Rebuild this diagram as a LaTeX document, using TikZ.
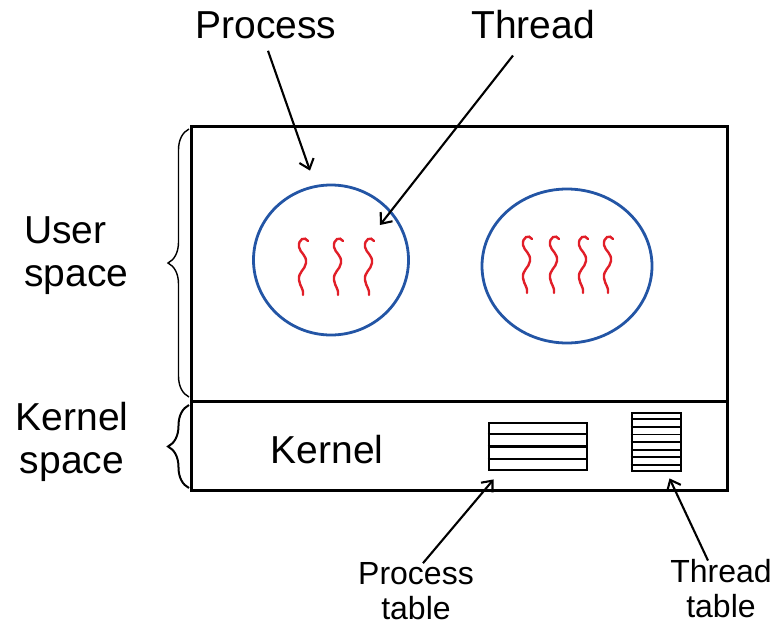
\documentclass[tikz,border=0pt]{standalone}
\usepackage{fontspec}
\setmainfont{Liberation Sans}
\usetikzlibrary{shapes,arrows.meta,positioning,calc,decorations.pathreplacing}
\definecolor{procblue}{RGB}{35,85,165}
\definecolor{threadred}{RGB}{225,30,40}

\tikzset{
  thread/.pic={\draw[threadred, line width=2.4pt, line cap=round]
    (6,3) .. controls (3,-2) and (-4,1) .. (-3,9)
    .. controls (-2,15) and (5,17) .. (4,25)
    .. controls (3,32) and (-4,34) .. (-3,42)
    .. controls (-2,49) and (2,51) .. (1,57);}
}

\begin{document}
\begin{tikzpicture}[x=1pt, y=-1pt,
    bigtext/.style={font=\fontsize{39}{43}\selectfont, inner sep=0pt},
    smalltext/.style={font=\fontsize{32}{35}\selectfont, inner sep=0pt, align=center},
    procblob/.style={draw=procblue, ellipse, line width=2.8pt},
    tablebox/.style={draw, rectangle, line width=2.8pt, inner sep=0pt},
    ptr/.style={line width=2.1pt, -{Straight Barb[length=9pt,width=15pt]}},
    brace/.style={decorate, decoration={brace, amplitude=21pt}}]
				\useasboundingbox (0,0) rectangle (777,627);
				
				% Address space
				\draw[line width=3pt] (191,126) rectangle (727,490);
				\draw[line width=3pt] (191,401) -- (727,401);
				
				% Processes
				\node[procblob, minimum width=155pt, minimum height=150pt] (proc1) at (331,260) {};
				\node[procblob, minimum width=170pt, minimum height=154pt] (proc2) at (567,266) {};
				
				% Threads
				\coordinate (t1) at (302,238);
				\coordinate (t2) at (337,238);
				\coordinate (t3) at (368,238);
				\foreach \t in {t1,t2,t3}
					\pic at (\t) {thread};
				\foreach \x in {526,553,582,607}
					\pic at (\x,236) {thread};
				
				% Kernel
				\node[bigtext] (kernel) at (327,450) {Kernel};
				\node[tablebox, minimum width=98pt, minimum height=47pt] (ptable) at (538,446.5) {};
				\foreach \i in {1,2,3}
					\draw[line width=2.4pt] ($(ptable.north west)!\i/4!(ptable.south west)$) -- ($(ptable.north east)!\i/4!(ptable.south east)$);
				\node[tablebox, minimum width=49pt, minimum height=58pt] (ttable) at (656.5,442) {};
				\foreach \i in {1,...,7}
					\draw[line width=1.8pt] ($(ttable.north west)!\i/8!(ttable.south west)$) -- ($(ttable.north east)!\i/8!(ttable.south east)$);
				
				% Side labels
				\draw[brace, line width=1.4pt] (189,397) -- (189,129);
				\node[bigtext, align=left, anchor=west] (user) at (24,256) {User\\space};
				\draw[brace, line width=2pt] (189,488) -- (189,405);
				\node[bigtext, align=center] (kspace) at (72,442) {Kernel\\space};
				
				% Top labels
				\node[bigtext] (plabel) at (266,25) {Process};
				\node[bigtext] (tlabel) at (533,25) {Thread};
				\draw[ptr] ([xshift=2pt,yshift=-12pt]plabel.south) -- ([xshift=-21pt,yshift=13pt]proc1.north);
				\draw[ptr] ([xshift=-20pt,yshift=-16pt]tlabel.south) -- ([xshift=12pt,yshift=13pt]t3);
				
				% Bottom labels
				\node[smalltext] (ptlabel) at (416,591) {Process\\table};
				\node[smalltext] (ttlabel) at (721,589) {Thread\\table};
				\draw[ptr] ([xshift=7pt,yshift=-1pt]ptlabel.north) -- ([xshift=6pt,yshift=-8pt]ptable.south west);
				\draw[ptr] ([xshift=-13pt,yshift=-1pt]ttlabel.north) -- ([xshift=13pt,yshift=-6pt]ttable.south);
			\end{tikzpicture}
\end{document}
